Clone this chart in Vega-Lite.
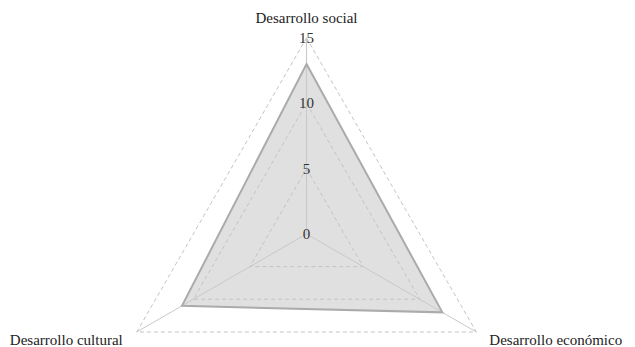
{
  "$schema": "https://vega.github.io/schema/vega-lite/v6.json",
  "width": 635,
  "height": 347,
  "autosize": "none",
  "padding": 0,
  "config": {"view": {"stroke": null}, "font": "'Liberation Serif', 'DejaVu Serif', serif", "text": {"font": "'Liberation Serif', 'DejaVu Serif', serif"}},
  "datasets": {
    "series": [
      {"axis": "Desarrollo social", "i": 0, "value": 13},
      {"axis": "Desarrollo económico", "i": 1, "value": 12},
      {"axis": "Desarrollo cultural", "i": 2, "value": 11}
    ],
    "grid": [
      {"level": 5, "i": 0}, {"level": 5, "i": 1}, {"level": 5, "i": 2},
      {"level": 10, "i": 0}, {"level": 10, "i": 1}, {"level": 10, "i": 2},
      {"level": 15, "i": 0}, {"level": 15, "i": 1}, {"level": 15, "i": 2}
    ],
    "ticks": [
      {"label": "0", "v": 0}, {"label": "5", "v": 5}, {"label": "10", "v": 10}, {"label": "15", "v": 15}
    ]
  },
  "layer": [
    {
      "data": {"name": "series"},
      "transform": [
        {"calculate": "datum.i * 2 * PI / 3", "as": "a"},
        {"calculate": "datum.value * sin(datum.a)", "as": "px"},
        {"calculate": "datum.value * cos(datum.a)", "as": "py"}
      ],
      "mark": {"type": "line", "interpolate": "linear-closed", "fill": "#e0e0e0", "stroke": "#e0e0e0", "strokeWidth": 0},
      "encoding": {
        "x": {"field": "px", "type": "quantitative", "scale": {"domain": [-23.45, 25.13], "nice": false, "zero": false}, "axis": null},
        "y": {"field": "py", "type": "quantitative", "scale": {"domain": [-8.65, 17.9], "nice": false, "zero": false}, "axis": null},
        "order": {"field": "i"}
      }
    },
    {
      "data": {"name": "grid"},
      "transform": [
        {"calculate": "datum.i * 2 * PI / 3", "as": "a"},
        {"calculate": "datum.level * sin(datum.a)", "as": "px"},
        {"calculate": "datum.level * cos(datum.a)", "as": "py"}
      ],
      "mark": {"type": "line", "interpolate": "linear-closed", "stroke": "#c4c4c4", "strokeWidth": 1, "strokeDash": [4, 3]},
      "encoding": {
        "x": {"field": "px", "type": "quantitative", "axis": null},
        "y": {"field": "py", "type": "quantitative", "axis": null},
        "detail": {"field": "level"},
        "order": {"field": "i"}
      }
    },
    {
      "data": {"name": "series"},
      "transform": [
        {"calculate": "datum.i * 2 * PI / 3", "as": "a"},
        {"calculate": "15 * sin(datum.a)", "as": "px"},
        {"calculate": "15 * cos(datum.a)", "as": "py"},
        {"calculate": "0", "as": "zero"}
      ],
      "mark": {"type": "rule", "stroke": "#c8c8c8", "strokeWidth": 1},
      "encoding": {
        "x": {"field": "zero", "type": "quantitative"},
        "y": {"field": "zero", "type": "quantitative"},
        "x2": {"field": "px"},
        "y2": {"field": "py"}
      }
    },
    {
      "data": {"name": "series"},
      "transform": [
        {"calculate": "datum.i * 2 * PI / 3", "as": "a"},
        {"calculate": "datum.value * sin(datum.a)", "as": "px"},
        {"calculate": "datum.value * cos(datum.a)", "as": "py"}
      ],
      "mark": {"type": "line", "interpolate": "linear-closed", "stroke": "#ababab", "strokeWidth": 2},
      "encoding": {
        "x": {"field": "px", "type": "quantitative"},
        "y": {"field": "py", "type": "quantitative"},
        "order": {"field": "i"}
      }
    },
    {
      "data": {"name": "ticks"},
      "transform": [{"calculate": "0", "as": "zero"}],
      "mark": {"type": "text", "font": "'Liberation Serif', 'DejaVu Serif', serif", "fontSize": 15, "color": "#333333", "baseline": "middle", "align": "center"},
      "encoding": {
        "x": {"field": "zero", "type": "quantitative"},
        "y": {"field": "v", "type": "quantitative"},
        "text": {"field": "label"}
      }
    },
    {
      "data": {"name": "series"},
      "transform": [{"filter": "datum.i == 0"}, {"calculate": "0", "as": "px"}, {"calculate": "15", "as": "py"}],
      "mark": {"type": "text", "font": "'Liberation Serif', 'DejaVu Serif', serif", "fontSize": 15, "color": "#222222", "baseline": "middle", "align": "center", "dy": -20},
      "encoding": {
        "x": {"field": "px", "type": "quantitative"},
        "y": {"field": "py", "type": "quantitative"},
        "text": {"field": "axis"}
      }
    },
    {
      "data": {"name": "series"},
      "transform": [
        {"filter": "datum.i == 1"},
        {"calculate": "15 * sin(2 * PI / 3)", "as": "px"},
        {"calculate": "15 * cos(2 * PI / 3)", "as": "py"}
      ],
      "mark": {"type": "text", "font": "'Liberation Serif', 'DejaVu Serif', serif", "fontSize": 15, "color": "#222222", "baseline": "middle", "align": "left", "dx": 13, "dy": 8},
      "encoding": {
        "x": {"field": "px", "type": "quantitative"},
        "y": {"field": "py", "type": "quantitative"},
        "text": {"field": "axis"}
      }
    },
    {
      "data": {"name": "series"},
      "transform": [
        {"filter": "datum.i == 2"},
        {"calculate": "15 * sin(4 * PI / 3)", "as": "px"},
        {"calculate": "15 * cos(4 * PI / 3)", "as": "py"}
      ],
      "mark": {"type": "text", "font": "'Liberation Serif', 'DejaVu Serif', serif", "fontSize": 15, "color": "#222222", "baseline": "middle", "align": "right", "dx": -14, "dy": 8},
      "encoding": {
        "x": {"field": "px", "type": "quantitative"},
        "y": {"field": "py", "type": "quantitative"},
        "text": {"field": "axis"}
      }
    }
  ]
}
